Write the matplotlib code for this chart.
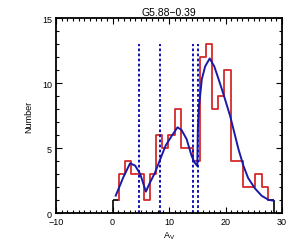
import numpy as np
import matplotlib
matplotlib.use('Agg')
import matplotlib.pyplot as plt

plt.rcParams['font.family'] = ['Liberation Sans', 'DejaVu Sans']

# гістограма A_V (межі бінів і кількості)
bin_edges = [0.0, 1.1, 2.2, 3.3, 4.4, 5.5, 6.6, 7.7, 8.8, 9.9, 11.0, 12.1, 13.2,
             14.3, 15.4, 16.5, 17.6, 18.7, 19.8, 20.9, 22.0, 23.1, 24.2, 25.3,
             26.4, 27.5, 28.6]
counts = [1, 3, 4, 3, 3, 1, 3, 6, 5, 6, 8, 5, 5, 4, 12, 13, 8, 9, 11, 4, 4, 2, 2,
          3, 2, 1]

# підгонка (синя крива)
fit_x = [0.56, 1.9, 3.1, 4.0, 4.9, 5.9, 6.5, 7.5, 8.4, 9.4, 10.5, 11.5, 12.2, 13.1,
         14.0, 14.5, 15.0, 15.1, 15.3, 15.8, 16.4, 17.2, 18.0, 18.7, 19.6, 20.8,
         21.4, 22.3, 23.2, 24.0, 25.2, 26.4, 27.6, 28.5]
fit_y = [1.34, 2.75, 3.83, 3.65, 3.0, 1.65, 2.24, 3.1, 4.1, 5.2, 5.96, 6.6, 6.4, 5.7,
         4.4, 3.9, 3.62, 6.5, 8.2, 10.3, 11.3, 11.9, 11.3, 10.4, 9.2, 7.5,
         6.46, 4.9, 3.6, 2.7, 1.9, 1.33, 1.02, 0.95]

# центри компонент (пунктирні лінії)
comp_centers = [4.65, 8.47, 14.2, 15.2]

title = 'G5.88\u22120.39'

fig = plt.figure(figsize=(3.0, 2.53), dpi=100)
ax = fig.add_axes([0.187, 0.154, 0.753, 0.770])

red = '#d42a2a'
blue = '#1a1aa8'

# крайні біни чорним, решта червоним
e = np.array(bin_edges)
c = np.array(counts)
ax.vlines(e[0], 0, c[0], color='k', lw=1.2)
ax.stairs(c[:1], e[:2], baseline=None, color='k', lw=1.2)
ax.stairs(c[-1:], e[-2:], baseline=None, color='k', lw=1.2)
ax.vlines(e[-1], 0, c[-1], color='k', lw=1.2)
xs = np.repeat(e[1:-1], 2)
ys = np.concatenate([[c[0]], np.repeat(c[1:-1], 2), [c[-1]]])
ax.plot(xs, ys, color=red, lw=1.3)

ax.plot(fit_x, fit_y, color=blue, lw=1.4)
ax.vlines(comp_centers, 0, max(counts), colors='#1010b0', lw=1.4,
          linestyles=(0, (1.4, 1.2)))

ax.set_xlim(-10, 30)
ax.set_ylim(0, 15)
ax.set_xticks([-10, 0, 10, 20, 30])
ax.set_xticklabels(['\u221210', '0', '10', '20', '30'])
ax.set_yticks([0, 5, 10, 15])
ax.set_xticks(np.arange(-10, 31, 1), minor=True)
ax.set_yticks(np.arange(0, 16, 1), minor=True)
ax.tick_params(which='both', direction='in', top=True, right=True, labelsize=6.5,
               width=0.8, pad=3)
ax.tick_params(which='major', length=4)
ax.tick_params(which='minor', length=2)
for s in ax.spines.values():
    s.set_linewidth(1.3)

ax.set_title(title, fontsize=7.5, pad=2)
ax.set_xlabel('A$_\\mathregular{V}$', fontsize=6.5, labelpad=2)
ax.set_ylabel('Number', fontsize=6.5, labelpad=6)

fig.savefig('out.png', dpi=100)
